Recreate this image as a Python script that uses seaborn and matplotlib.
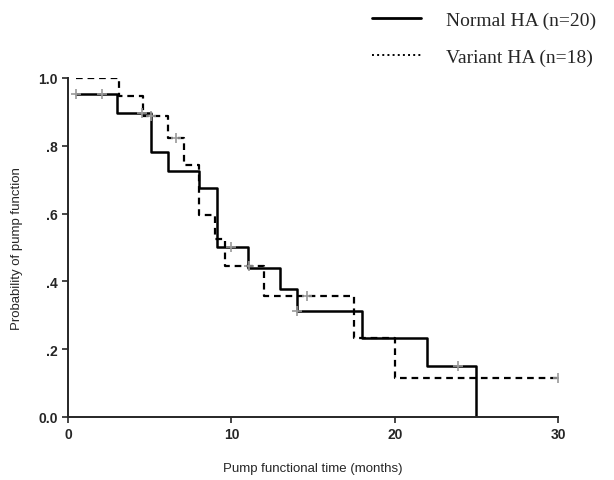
import matplotlib
matplotlib.use("Agg")
import matplotlib.pyplot as plt
from matplotlib.lines import Line2D
from matplotlib.ticker import FixedLocator, FixedFormatter
import seaborn as sns
import pandas as pd

# Kaplan-Meier steps
normal_t = [0.5, 3.0, 5.1, 6.1, 8.0, 9.1, 11.0, 13.0, 14.0, 18.0, 22.0, 25.0]
normal_s = [0.953, 0.897, 0.78, 0.726, 0.675, 0.50, 0.44, 0.378, 0.313, 0.233, 0.15, 0.0]
normal_cens_t = [0.5, 2.1, 4.5, 10.0, 14.0, 23.9]
normal_cens_s = [0.953, 0.953, 0.897, 0.50, 0.313, 0.15]

variant_t = [0.5, 3.1, 4.6, 6.1, 7.1, 8.0, 9.0, 9.6, 12.0, 17.5, 20.0, 30.0]
variant_s = [1.0, 0.947, 0.888, 0.823, 0.743, 0.596, 0.525, 0.445, 0.357, 0.233, 0.115, 0.115]
variant_cens_t = [5.1, 6.6, 11.1, 14.6, 30.0]
variant_cens_s = [0.888, 0.823, 0.445, 0.357, 0.115]

y_ticks = [0.0, 0.2, 0.4, 0.6, 0.8, 1.0]
y_labels = ["0.0", ".2", ".4", ".6", ".8", "1.0"]
x_ticks = [0, 10, 20, 30]

sns.set_style("ticks")
plt.rcParams["font.family"] = ["Liberation Sans", "DejaVu Sans"]

fig = plt.figure(figsize=(6.14, 4.81), dpi=100)
ax = fig.add_axes([0.111, 0.131, 0.798, 0.705])

normal = pd.DataFrame({"t": normal_t, "s": normal_s})
variant = pd.DataFrame({"t": variant_t, "s": variant_s})

sns.lineplot(data=normal, x="t", y="s", estimator=None, sort=False, ax=ax,
             drawstyle="steps-post", color="black", linewidth=1.8)
sns.lineplot(data=variant, x="t", y="s", estimator=None, sort=False, ax=ax,
             drawstyle="steps-post", color="black", linewidth=1.6,
             linestyle=(0, (3, 2.2)))

sns.scatterplot(x=normal_cens_t, y=normal_cens_s, marker="+", s=60,
                color="#9a9a9a", linewidth=1.2, ax=ax, zorder=5)
sns.scatterplot(x=variant_cens_t, y=variant_cens_s, marker="+", s=60,
                color="#9a9a9a", linewidth=1.2, ax=ax, zorder=5)

ax.set_xlim(0, 30)
ax.set_ylim(0, 1.0)
ax.xaxis.set_major_locator(FixedLocator(x_ticks))
ax.yaxis.set_major_locator(FixedLocator(y_ticks))
ax.yaxis.set_major_formatter(FixedFormatter(y_labels))
ax.tick_params(axis="both", labelsize=10, length=4, width=1.2, direction="out")
for lab in ax.get_xticklabels() + ax.get_yticklabels():
    lab.set_fontweight("bold")
for sp in ["left", "bottom"]:
    ax.spines[sp].set_linewidth(1.4)
sns.despine(ax=ax)

ax.set_xlabel("Pump functional time (months)", fontsize=9.5, labelpad=15)
ax.set_ylabel("Probability of pump function", fontsize=9.5, labelpad=11)

handles = [Line2D([], [], color="black", linewidth=2),
           Line2D([], [], color="black", linewidth=1.4, linestyle=":")]
fig.legend(handles, ["Normal HA (n=20)", "Variant HA (n=18)"],
           loc="upper right", bbox_to_anchor=(1.0, 1.01), frameon=False,
           handlelength=2.5, handletextpad=1.3, labelspacing=0.95,
           prop={"family": ["Liberation Serif"], "size": 14})

fig.savefig("out.png", dpi=100)
